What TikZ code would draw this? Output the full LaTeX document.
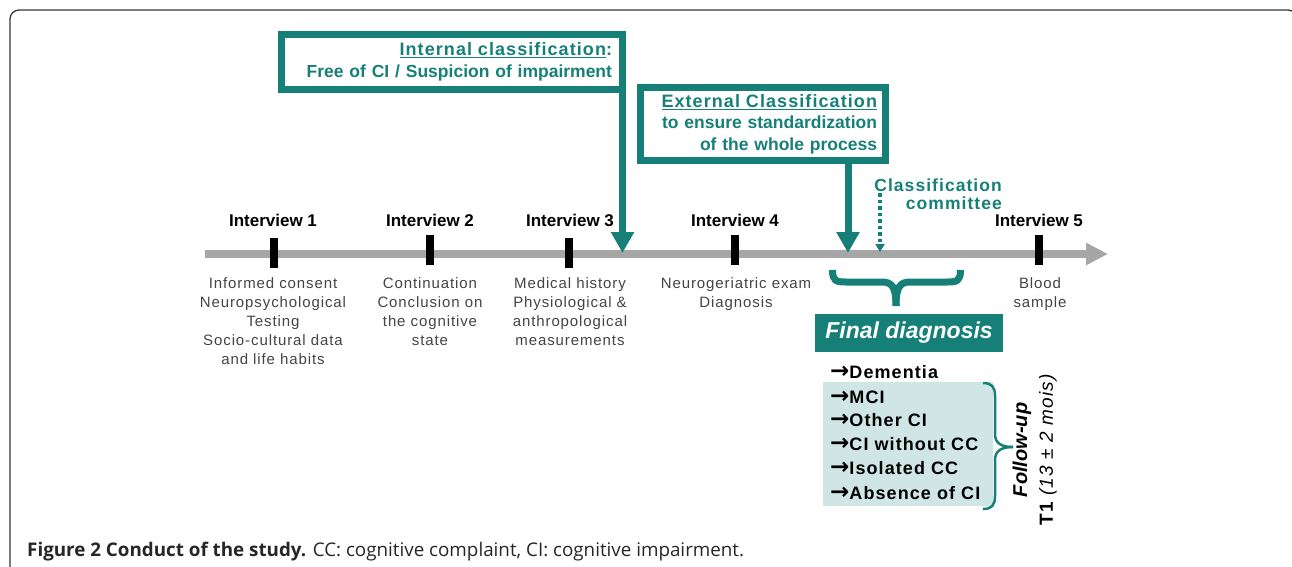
\documentclass[tikz,border=0pt]{standalone}
\usepackage{fontspec}
\setmainfont{Liberation Sans}
\newfontfamily\descfont[LetterSpace=6]{Liberation Sans}
\newfontfamily\headfont[LetterSpace=6]{Liberation Sans}
\newfontfamily\capfont{Open Sans}
\newfontfamily\arrfont{DejaVu Sans}
\newcommand\fsz[2]{\fontsize{#1}{#2}\selectfont}
\newcommand\myarr{{\arrfont\bfseries\fsz{23}{20}→}}
\usetikzlibrary{arrows.meta}
\definecolor{tealc}{RGB}{22,128,120}
\definecolor{lightteal}{RGB}{208,230,228}
\definecolor{descgray}{RGB}{68,68,68}
\definecolor{tlgray}{RGB}{166,166,166}
\definecolor{framegray}{RGB}{55,55,55}
\begin{document}
\begin{tikzpicture}[x=1pt,y=-1pt,
  ivlabel/.style={font=\bfseries\fsz{17}{19}, inner sep=0},
  desc/.style={font=\descfont\fsz{15}{19}, text=descgray, align=center, anchor=north, inner sep=0},
  tickmark/.style={fill=black, minimum width=8, minimum height=30, inner sep=0},
  classbox/.style={draw=tealc, line width=7, outer sep=0, align=right, text=tealc, font=\bfseries\fsz{17.5}{21.5}},
  bigarrow/.style={draw=tealc, line width=7, -{Triangle[length=21pt,width=22pt]}},
  listitem/.style={anchor=west, font=\descfont\bfseries\fsz{18}{20}, inner sep=0},
]
\useasboundingbox (0,0) rectangle (1292,566);
% frame
\draw[framegray, line width=1.3, rounded corners=9pt] (10,580) -- (10,10) -- (1297,10) -- (1297,580);

% timeline
\coordinate (tlstart) at (205,254);
\coordinate (tlend) at (1108,254);
\draw[tlgray, line width=8, -{Triangle[length=22pt,width=21pt]}] (tlstart) -- (tlend);

% ticks
\node[tickmark] (t1) at (274,253) {};
\node[tickmark] (t2) at (430,250) {};
\node[tickmark] (t3) at (569,253) {};
\node[tickmark] (t4) at (735,250) {};
\node[tickmark] (t5) at (1039,250) {};

% interview labels
\node[ivlabel] (l1) at (273,220) {Interview 1};
\node[ivlabel] (l2) at (430,220) {Interview 2};
\node[ivlabel] (l3) at (570,220) {Interview 3};
\node[ivlabel] (l4) at (735,220) {Interview 4};
\node[ivlabel] (l5) at (1039,220) {Interview 5};

% descriptions
\node[desc] (d1) at (273,277) {Informed consent\\Neuropsychological\\Testing\\Socio-cultural data\\and life habits};
\node[desc] (d2) at (430,277) {Continuation\\Conclusion on\\the cognitive\\state};
\node[desc] (d3) at (570,277) {Medical history\\Physiological \&\\anthropological\\measurements};
\node[desc] (d4) at (736,277) {Neurogeriatric exam\\Diagnosis};
\node[desc] (d5) at (1040,277) {Blood\\sample};

% internal classification
\node[classbox, text width=320pt, inner xsep=10.5pt, minimum height=55pt] (intbox) at (452,62)
  {{\headfont\fsz{18}{21.5}\underline{Internal classification}:}\\Free of CI / Suspicion of impairment};
\coordinate (tip3) at (622.5,253);
\draw[bigarrow] (intbox.south east) -- (tip3);

% external classification
\node[classbox, text width=228pt, inner xsep=8.5pt, minimum height=73pt] (extbox) at (763,124)
  {{\headfont\fsz{18}{21}\underline{External Classification}}\\to ensure standardization\\of the whole process};
\coordinate (tipE) at (848,253);
\draw[bigarrow] (extbox.south -| tipE) -- (tipE);

% classification committee
\node[anchor=east, align=right, inner sep=0, text=tealc, font=\descfont\bfseries\fsz{17.5}{18}] (cc) at (1002,194) {Classification\\committee};
\coordinate (ccs) at (880,193);
\coordinate (ccE) at (880,252);
\draw[tealc, line width=3.5, dash pattern=on 3.5pt off 3pt, -{Triangle[length=8pt,width=9pt]}] (ccs) -- (ccE);

% bottom brace
\draw[tealc, line width=7]
  (832.5,270) .. controls (832.5,281) and (836,282) .. (846,282) -- (882,282)
  .. controls (892,282) and (896,287) .. (896,306);
\draw[tealc, line width=7]
  (960.5,270) .. controls (960.5,281) and (957,282) .. (947,282) -- (910,282)
  .. controls (900,282) and (896,287) .. (896,306);

% final diagnosis
\node[fill=tealc, minimum width=188, minimum height=38, text=white, font=\bfseries\itshape\fsz{23}{24}, inner sep=0] (fd) at (909,333) {Final diagnosis};

\fill[lightteal] (823,382) rectangle (993,506);
\node[listitem] (i1) at (830,372) {\myarr Dementia};
\node[listitem] (i2) at (830,397) {\myarr MCI};
\node[listitem] (i3) at (830,420) {\myarr Other CI};
\node[listitem] (i4) at (830,444) {\myarr CI without CC};
\node[listitem] (i5) at (830,468) {\myarr Isolated CC};
\node[listitem] (i6) at (830,493) {\myarr Absence of CI};

% right brace
\draw[tealc, line width=2.5]
  (983,383) .. controls (992,383) and (995,387) .. (995,396) -- (995,434)
  .. controls (995,443) and (1001,447) .. (1013,447);
\draw[tealc, line width=2.5]
  (983,509) .. controls (992,509) and (995,505) .. (995,496) -- (995,460)
  .. controls (995,451) and (1001,447) .. (1013,447);

% follow-up
\node[rotate=90, inner sep=0, font=\bfseries\itshape\fsz{20}{22}] (fu) at (1022,450) {Follow-up};
\node[rotate=90, inner sep=0, font=\descfont\fsz{19}{22}] (tone) at (1048,450) {{\bfseries T1} {\itshape (13 ± 2 mois)}};

% caption
\node[anchor=base west, inner sep=0, text=black!85, font=\capfont\fsz{18.8}{20}] (cap) at (27,556)
  {\textbf{Figure 2 Conduct of the study.} CC: cognitive complaint, CI: cognitive impairment.};
\end{tikzpicture}
\end{document}
